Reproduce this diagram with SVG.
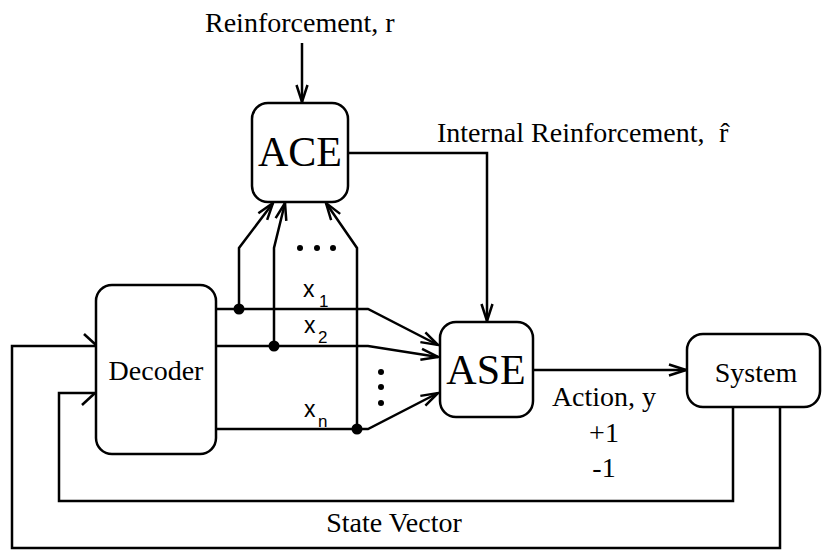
<svg xmlns="http://www.w3.org/2000/svg" width="822" height="550" viewBox="0 0 822 550">
<style>
.box{fill:#fff;stroke:#000;stroke-width:2.5}
.ln{fill:none;stroke:#000;stroke-width:2.5}
.t{font-family:"Liberation Serif","Times New Roman",serif;font-size:28px;fill:#000}
.big{font-size:42px}
.s{font-family:"Liberation Sans",Arial,sans-serif;fill:#000}
</style>
<defs>
<marker id="arr" markerUnits="userSpaceOnUse" markerWidth="20" markerHeight="14" viewBox="0 0 20 14" refX="18" refY="7" orient="auto">
<path d="M1,1.5 L18,7 L1,12.5" fill="none" stroke="#000" stroke-width="2.5"/>
</marker>
</defs>
<rect width="822" height="550" fill="#fff"/>
<g id="connectors">
<path class="ln" d="M302,43 V102" marker-end="url(#arr)"/>
<path class="ln" d="M348,153 H487 V321" marker-end="url(#arr)"/>
<path class="ln" d="M216,309 H368 L438,345" marker-end="url(#arr)"/>
<path class="ln" d="M216,346 H368 L438,357" marker-end="url(#arr)"/>
<path class="ln" d="M216,429 H368 L438,393" marker-end="url(#arr)"/>
<path class="ln" d="M239,309 V248 L273,203" marker-end="url(#arr)"/>
<path class="ln" d="M274,346 V248 L285,203" marker-end="url(#arr)"/>
<path class="ln" d="M357,429 V248 L326,203" marker-end="url(#arr)"/>
<path class="ln" d="M533,370 H686" marker-end="url(#arr)"/>
<path class="ln" d="M733,407 V501 H59 V393 H96"/>
<path class="ln" d="M82,405 L95,393"/>
<path class="ln" d="M780,407 V548 H12 V346 H96"/>
<path class="ln" d="M84,334 L96,345"/>
<circle cx="239" cy="309" r="5.5"/>
<circle cx="274" cy="346" r="5.5"/>
<circle cx="357" cy="429" r="5.5"/>
<circle cx="300" cy="248" r="3"/>
<circle cx="317" cy="248" r="3"/>
<circle cx="333" cy="248" r="3"/>
<circle cx="381" cy="372" r="3"/>
<circle cx="381" cy="387" r="3"/>
<circle cx="381" cy="403" r="3"/>
</g>
<g id="ace">
<rect class="box" x="252" y="103" width="96" height="99" rx="16"/>
<text class="t big" x="300" y="166" text-anchor="middle">ACE</text>
</g>
<g id="ase">
<rect class="box" x="440" y="322" width="93" height="95" rx="16"/>
<text class="t big" x="486" y="384" text-anchor="middle">ASE</text>
</g>
<g id="decoder">
<rect class="box" x="96" y="285" width="120" height="169" rx="16"/>
<text class="t" x="156" y="380" text-anchor="middle">Decoder</text>
</g>
<g id="system">
<rect class="box" x="687" y="334" width="133" height="73" rx="16"/>
<text class="t" x="756" y="382" text-anchor="middle">System</text>
</g>
<g id="labels">
<text class="t" x="205" y="32">Reinforcement, r</text>
<text class="t" x="437" y="142">Internal Reinforcement,<tspan x="719">r̂</tspan></text>
<text class="s" x="303" y="297" font-size="23">x</text>
<text class="s" x="319" y="307" font-size="17">1</text>
<text class="s" x="304" y="333" font-size="23">x</text>
<text class="s" x="318" y="343" font-size="17">2</text>
<text class="s" x="304" y="417" font-size="23">x</text>
<text class="s" x="318" y="427" font-size="17">n</text>
<text class="t" x="604" y="406" text-anchor="middle">Action, y</text>
<text class="t" x="604" y="442" text-anchor="middle">+1</text>
<text class="t" x="604" y="477" text-anchor="middle">-1</text>
<text class="t" x="394" y="532" text-anchor="middle">State Vector</text>
</g>
</svg>
